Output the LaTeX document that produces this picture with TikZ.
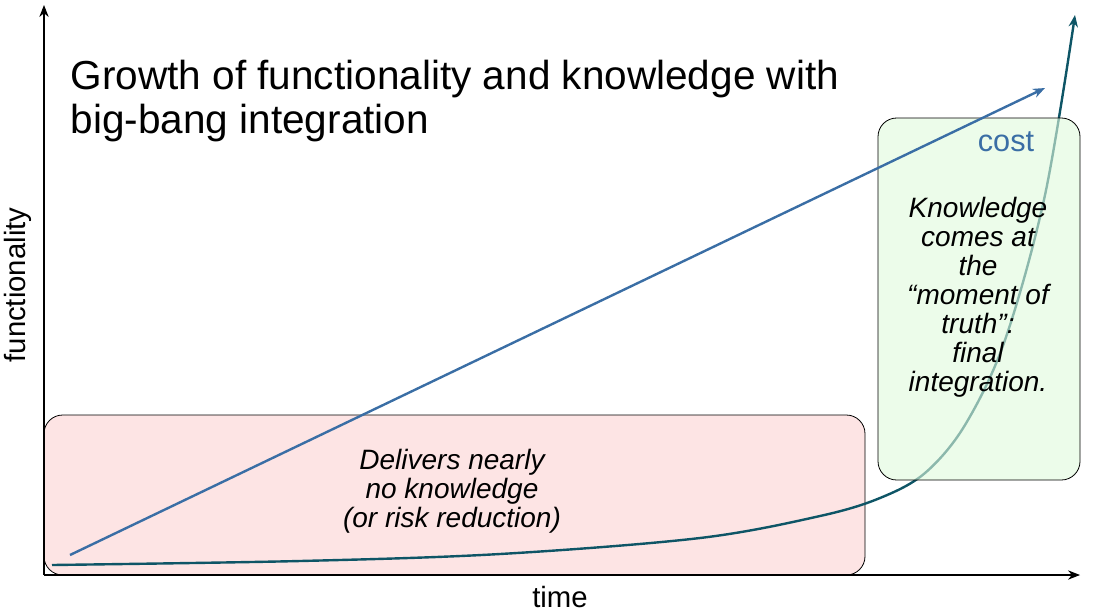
\documentclass[tikz,border=0pt]{standalone}
\usepackage{fontspec}
\setmainfont{Liberation Sans}
\usetikzlibrary{arrows.meta}
\definecolor{funcBlue}{HTML}{3A6EA5}
\definecolor{costTeal}{HTML}{0E5566}
\definecolor{pinkFill}{HTML}{FDE4E4}
\definecolor{greenFill}{HTML}{E0FADC}
\begin{document}
\begin{tikzpicture}[x=0.75pt, y=-0.75pt, >={Stealth[length=9pt,width=7pt]}]
            % Set styles
            \tikzset{
                regionBox/.style={
                        draw,
                        rounded corners=14pt,
                        line width=0.6pt
                    }
            }
            \tikzset{
                noteText/.style={
                        align=center,
                        font=\fontsize{21}{21.8}\selectfont\itshape
                    }
            }
            \tikzset{
                axisLine/.style={thick, ->}
            }
            \useasboundingbox (0,0) rectangle (1094,615);
            % Regions
            \draw[regionBox, fill=pinkFill] (44,415) rectangle (865,575);
            % Cost curve
            \draw[costTeal, line width=1.8pt, ->] plot[smooth, tension=0.55] coordinates {(52,565) (300,561) (500,554) (700,538) (820,516) (880,498) (925,473) (965,425) (1005,340) (1045,195) (1075,15)};
            \fill[greenFill, opacity=0.6] (878,118) [rounded corners=14pt] rectangle (1080,480);
            \draw[regionBox] (878,118) rectangle (1080,480);
            % Functionality
            \coordinate (funcStart) at (70,555);
            \coordinate (funcEnd) at (1045,88);
            \draw[funcBlue, line width=1.8pt, ->] (funcStart) -- (funcEnd);
            % Axes
            \coordinate (origin) at (44,575);
            \coordinate (yEnd) at (44,5);
            \coordinate (xEnd) at (1080,575);
            \draw[axisLine] (origin) -- (yEnd);
            \draw[axisLine] (origin) -- (xEnd);
            % Texts
            \node[anchor=north west, align=left, font=\fontsize{30.4}{33}\selectfont] (title) at (66,55) {Growth of functionality and knowledge with\\big-bang integration};
            \node[rotate=90, font=\fontsize{22}{25}\selectfont] (yLabel) at (18,285) {functionality};
            \node[font=\fontsize{22}{25}\selectfont] (xLabel) at (560,597) {time};
            \node[noteText] (pinkNote) at (452,491) {Delivers nearly\\no knowledge\\(or risk reduction)};
            \node[noteText] (greenNote) at (978,297) {Knowledge\\comes at\\the\\“moment of\\truth”:\\final\\integration.};
            \node[funcBlue, font=\fontsize{23}{26}\selectfont] (costLabel) at (1006,142) {cost};
        \end{tikzpicture}
\end{document}
